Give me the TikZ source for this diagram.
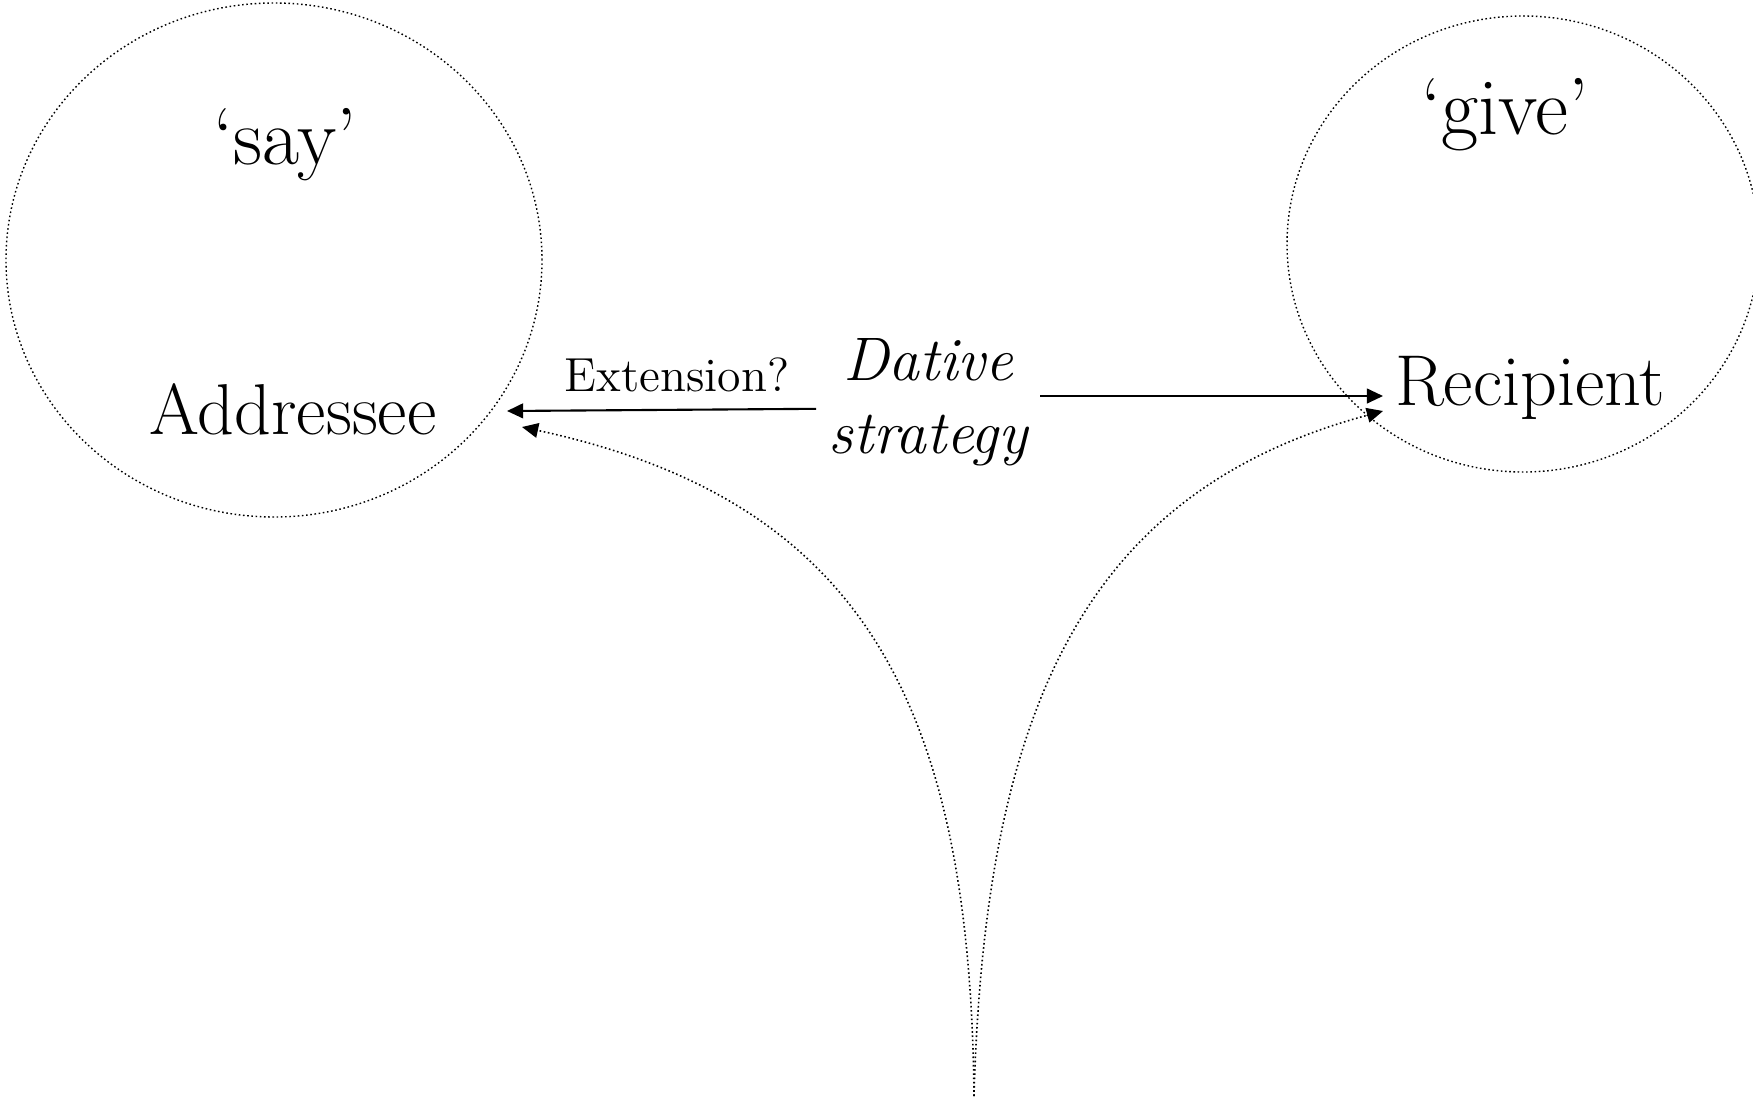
\documentclass[tikz,border=0pt]{standalone}
\usepackage{tikz}
\usetikzlibrary{arrows.meta,positioning}

\begin{document}
\begin{tikzpicture}[
    ring/.style={draw, line width=0.4pt, dash pattern=on 0.45pt off 0.75pt},
    link/.style={line width=0.6pt, -{Triangle[length=4.6pt,width=4.2pt]}},
    hint/.style={line width=0.45pt, dash pattern=on 0.45pt off 0.75pt, -{Triangle[length=4.6pt,width=4.2pt]}},
    word/.style={font=\fontsize{20.5}{24}\selectfont, anchor=base},
    verb/.style={font=\fontsize{23}{27}\selectfont, anchor=base}]
  % Frame
  \useasboundingbox (0,0) rectangle (17.53,10.96);
  \clip (0,0) rectangle (17.53,10.96);

  % Two domains
  \draw[ring] (2.74,8.36) ellipse [x radius=2.68, y radius=2.57];
  \draw[ring] (15.23,8.52) ellipse [x radius=2.36, y radius=2.28];

  \node[verb] (say) at (2.85,9.31) {‘say’};
  \node[verb] (give) at (15.05,9.62) {‘give’};
  \node[word] (addressee) at (2.93,6.62) {Addressee};
  \node[word] (recipient) at (15.30,6.91) {Recipient};

  % Middle labels
  \node[font=\fontsize{17.5}{20.8}\selectfont\itshape, align=center] (dative) at (9.28,6.94) {Dative\\strategy};
  \node[font=\fontsize{13.6}{16}\selectfont, anchor=base] (extension) at (6.77,7.05) {Extension?};

  % Tips and root
  \coordinate (saytip) at (5.07,6.85);
  \coordinate (givetip) at (13.83,7.00);
  \coordinate (sayend) at (5.22,6.69);
  \coordinate (giveend) at (13.83,6.85);
  \coordinate (root) at (9.74,0);

  % Arrows
  \draw[link] (dative.west |- addressee) -- (saytip);
  \draw[link] (dative.east |- givetip) -- (givetip);
  \draw[hint] (root) .. controls (9.70,3.96) and (8.60,5.96) .. (sayend);
  \draw[hint] (root) .. controls (9.85,3.96) and (10.90,6.06) .. (giveend);
\end{tikzpicture}
\end{document}
